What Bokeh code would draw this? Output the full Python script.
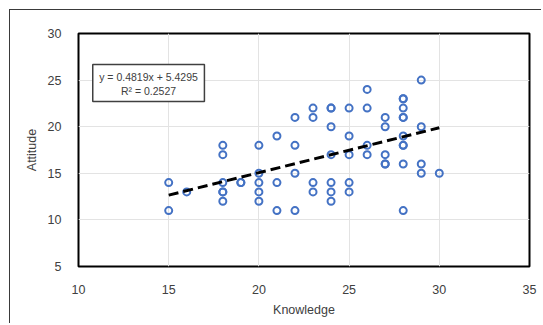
from bokeh.plotting import figure
from bokeh.models import FixedTicker, ColumnDataSource, Label
from bokeh.embed import file_html
from bokeh.resources import INLINE

# ---- data ----
knowledge = [15, 15,
             16,
             18, 18, 18, 18, 18, 18,
             19, 19,
             20, 20, 20, 20, 20,
             21, 21, 21,
             22, 22, 22, 22,
             23, 23, 23, 23,
             24, 24, 24, 24, 24, 24, 24,
             25, 25, 25, 25, 25,
             26, 26, 26, 26,
             27, 27, 27, 27, 27,
             28, 28, 28, 28, 28, 28, 28, 28, 28, 28,
             29, 29, 29, 29,
             30]
attitude = [14, 11,
            13,
            18, 17, 14, 13, 13, 12,
            14, 14,
            18, 15, 14, 13, 12,
            19, 14, 11,
            21, 18, 15, 11,
            22, 21, 14, 13,
            22, 22, 20, 17, 14, 13, 12,
            22, 19, 17, 14, 13,
            24, 22, 18, 17,
            21, 20, 17, 16, 16,
            23, 23, 22, 21, 21, 19, 18, 18, 16, 11,
            25, 20, 16, 15,
            15]
slope = 0.4819
intercept = 5.4295
r_squared = 0.2527
x_ticks = [10, 15, 20, 25, 30, 35]
y_ticks = [5, 10, 15, 20, 25, 30]

FONT = "Liberation Sans"
TXT = "#404040"

p = figure(width=532, height=314, x_range=(10, 35), y_range=(5, 30),
           output_backend="svg", toolbar_location=None,
           min_border_left=68, min_border_right=13, min_border_top=23,
           min_border_bottom=58)
p.styles = {"margin-left": "9px", "margin-top": "9px",
            "border-left": "1px solid #3a3a3a", "border-top": "1px solid #3a3a3a"}

p.outline_line_color = "black"
p.outline_line_width = 2
p.background_fill_color = "white"
p.border_fill_color = "white"

for ax in (p.xaxis, p.yaxis):
    ax.axis_line_color = None
    ax.major_tick_line_color = None
    ax.minor_tick_line_color = None
    ax.major_label_text_font = FONT
    ax.major_label_text_font_size = "12.5px"
    ax.major_label_text_color = TXT
    ax.axis_label_text_font = FONT
    ax.axis_label_text_font_size = "12.5px"
    ax.axis_label_text_color = TXT
    ax.axis_label_text_font_style = "normal"

p.xaxis.ticker = FixedTicker(ticks=x_ticks)
p.yaxis.ticker = FixedTicker(ticks=y_ticks)
p.xaxis.major_label_standoff = 12
p.yaxis.major_label_standoff = 11
p.xaxis.axis_label = "Knowledge"
p.yaxis.axis_label = "Attitude"
p.xaxis.axis_label_standoff = 6
p.yaxis.axis_label_standoff = 6

p.xgrid.ticker = FixedTicker(ticks=x_ticks)
p.ygrid.ticker = FixedTicker(ticks=y_ticks)
p.grid.grid_line_color = "#e3e3e3"
p.grid.grid_line_width = 1

src = ColumnDataSource(dict(x=knowledge, y=attitude))
p.scatter("x", "y", source=src, size=7, marker="circle",
          fill_color=None, line_color="#4472C4", line_width=2)

xmin, xmax = min(knowledge), max(knowledge)
p.line([xmin, xmax], [slope * xmin + intercept, slope * xmax + intercept],
       line_color="black", line_width=3, line_dash="10 5")

# equation box
p.quad(left=[10.79], right=[16.98], bottom=[22.7], top=[26.67],
       fill_color="white", line_color="#404040", line_width=1.5)
p.add_layout(Label(x=13.88, y=25.31, text=f"y = {slope}x + {intercept}",
                   text_align="center", text_baseline="middle",
                   text_font=FONT, text_font_size="10.5px", text_color=TXT))
p.add_layout(Label(x=13.88, y=23.81, text=f"R\u00b2 = {r_squared}",
                   text_align="center", text_baseline="middle",
                   text_font=FONT, text_font_size="10.5px", text_color=TXT))

open("out.html", "w").write(file_html(p, INLINE))
